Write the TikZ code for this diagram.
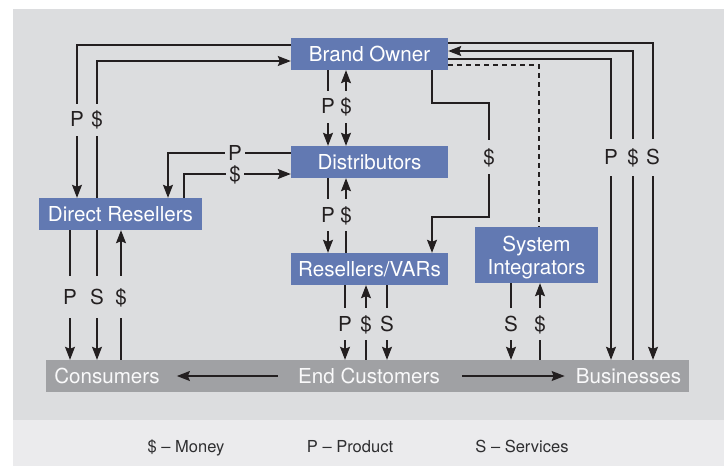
\documentclass[tikz,border=0pt]{standalone}
\usepackage{fontspec}
\setmainfont{TeX Gyre Heros}
\usetikzlibrary{arrows.meta}
\definecolor{panel}{HTML}{DCDDDF}
\definecolor{band}{HTML}{EBEBED}
\definecolor{boxblue}{HTML}{6279B2}
\definecolor{bargray}{HTML}{A0A1A4}
\definecolor{ink}{HTML}{231F20}
\definecolor{legendink}{HTML}{2E2E30}
\begin{document}
\begin{tikzpicture}[x=1pt,y=-1pt,
  >={Stealth[length=13pt,width=10pt,inset=2pt]},
  box/.style={fill=boxblue,text=white,inner sep=0pt,minimum height=32pt,
    text height=14.7pt,text depth=0pt,font=\fontsize{20.6}{23}\selectfont},
  bartext/.style={text=white!94!bargray,inner sep=0pt,text height=14.7pt,text depth=0pt,
    font=\fontsize{20.6}{23}\selectfont},
  flow/.style={draw=ink,line width=1.2pt,->},
  twoway/.style={draw=ink,line width=1.2pt,<->},
  link/.style={draw=ink,line width=1.2pt,dash pattern=on 5pt off 4pt},
  tag/.style={fill=panel,text=ink,inner xsep=3pt,inner ysep=0pt,minimum height=32pt,
    text height=14.7pt,text depth=0pt,font=\fontsize{20.6}{23}\selectfont},
  legend/.style={text=legendink,inner sep=0pt,text height=11.8pt,text depth=0pt,
    font=\fontsize{16.5}{18}\selectfont}]

% canvas and panels
\fill[white] (0,0) rectangle (727,466);
\fill[panel] (13,9) rectangle (724,420);
\fill[band] (13,420) rectangle (724,466);

% actors
\node[box,minimum width=157pt] (brand) at (369.5,54) {Brand Owner};
\node[box,minimum width=157pt] (dist) at (369.5,162) {Distributors};
\node[box,minimum width=163pt] (dres) at (120.5,214) {Direct Resellers};
\node[box,minimum width=157pt] (rvar) at (369.5,269) {Resellers/VARs};
\node[box,minimum width=123pt,minimum height=56pt] (sysi) at (536.5,255) {};
\node[text=white,inner sep=0pt,align=center,font=\fontsize{20.6}{23}\selectfont]
  (sysitext) at ([yshift=-2.5pt]sysi.center) {System\\Integrators};

% customer bar
\node[fill=bargray,minimum width=643pt,minimum height=32pt,inner sep=0pt] (bar) at (367.5,376) {};
\node[bartext] (cons) at (107,376) {Consumers};
\node[bartext] (endc) at (369,376) {End Customers};
\node[bartext] (bus) at (628.5,376) {Businesses};

% brand owner <-> direct resellers
\draw[flow] (brand.west |- 0,45) -| (77,0 |- dres.north);
\draw[flow] (97,0 |- dres.north) |- (brand.west |- 0,61);

% brand owner <-> distributors
\draw[flow] (328,0 |- brand.south) -- (328,0 |- dist.north);
\draw[twoway] (346,0 |- brand.south) -- (346,0 |- dist.north);

% distributors <-> direct resellers
\draw[flow] (dist.west |- 0,153) -| (168,0 |- dres.north);
\draw[flow] (184,0 |- dres.north) |- (dist.west |- 0,174);

% distributors <-> resellers/VARs
\draw[flow] (328,0 |- dist.south) -- (328,0 |- rvar.north);
\draw[flow] (346,0 |- rvar.north) -- (346,0 |- dist.south);

% brand owner money to resellers/VARs
\draw[flow] (432,0 |- brand.south) |- (489,103) |- (432,217) -- (432,0 |- rvar.north);

% brand owner to system integrators
\draw[link] (brand.east |- 0,65) -| (539,0 |- sysi.north);

% brand owner <-> businesses
\draw[flow] (brand.east |- 0,59) -| (611,0 |- bar.north);
\draw[flow] (633,0 |- bar.north) |- (brand.east |- 0,51);
\draw[flow] (brand.east |- 0,43) -| (653,0 |- bar.north);

% direct resellers <-> consumers
\draw[flow] (70,0 |- dres.south) -- (70,0 |- bar.north);
\draw[flow] (97,0 |- dres.south) -- (97,0 |- bar.north);
\draw[flow] (121,0 |- bar.north) -- (121,0 |- dres.south);

% resellers/VARs <-> end customers
\draw[flow] (345,0 |- rvar.south) -- (345,0 |- bar.north);
\draw[flow] (366,0 |- bar.north) -- (366,0 |- rvar.south);
\draw[flow] (387,0 |- rvar.south) -- (387,0 |- bar.north);

% system integrators <-> businesses
\draw[flow] (511,0 |- sysi.south) -- (511,0 |- bar.north);
\draw[flow] (540,0 |- bar.north) -- (540,0 |- sysi.south);

% end customers split
\draw[flow] ([xshift=-20pt]endc.west) -- ([xshift=17pt]cons.east);
\draw[flow] ([xshift=22pt]endc.east) -- ([xshift=-11pt]bus.west);

% flow labels
\node[tag] (lp1) at (77,119.5) {P};
\node[tag] (lm1) at (97,119.5) {\$};
\node[tag] (lp2) at (328,106.5) {P};
\node[tag] (lm2) at (346,106.5) {\$};
\node[tag,minimum height=0pt] (lp3) at (235,153) {P};
\node[tag,minimum height=0pt] (lm3) at (235,174) {\$};
\node[tag] (lp4) at (328,215) {P};
\node[tag] (lm4) at (346,215) {\$};
\node[tag,minimum height=34pt] (lm5) at (489,157) {\$};
\node[tag,minimum height=37pt] (lp6) at (611,157) {P};
\node[tag,minimum height=37pt] (lm6) at (633,157) {\$};
\node[tag,minimum height=37pt] (ls6) at (653,157) {S};
\node[tag,minimum height=42pt] (lp7) at (70,297) {P};
\node[tag,minimum height=42pt] (ls7) at (97,297) {S};
\node[tag,minimum height=42pt] (lm7) at (121,297) {\$};
\node[tag] (lp8) at (345,324) {P};
\node[tag] (lm8) at (366,324) {\$};
\node[tag] (ls8) at (387,324) {S};
\node[tag] (ls9) at (511,324) {S};
\node[tag] (lm9) at (540,324) {\$};

% key
\node[legend] (k1) at (186,447) {\$ – Money};
\node[legend] (k2) at (350,447) {P – Product};
\node[legend] (k3) at (522,447) {S – Services};

\useasboundingbox (0,0) rectangle (727,466);
\end{tikzpicture}
\end{document}
